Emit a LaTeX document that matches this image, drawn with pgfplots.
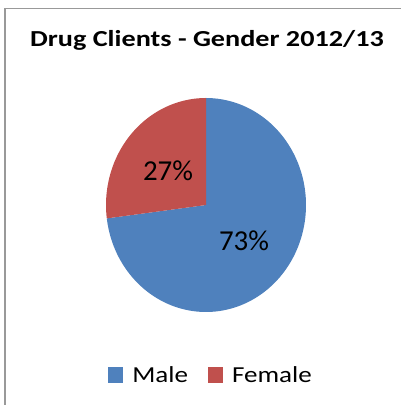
\documentclass[border=0pt]{standalone}
\usepackage{fontspec}
\setmainfont{Carlito}
\newfontfamily\titlefont[FakeStretch=1.23]{Carlito}
\newfontfamily\widefont[FakeStretch=1.18]{Carlito}
\usepackage{pgfplots}
\usepackage{pgfplotstable}
\pgfplotsset{compat=1.18}
\definecolor{pieblue}{HTML}{4F81BD}
\definecolor{piered}{HTML}{C0504D}
\pgfplotstableread{
label value
Male 73
Female 27
}\piedata
\pgfplotstablegetelem{0}{value}\of\piedata
\let\maleval\pgfplotsretval
\pgfplotstablegetelem{1}{value}\of\piedata
\let\femaleval\pgfplotsretval
\begin{document}
\begin{tikzpicture}
\useasboundingbox (0,0) rectangle (401bp,405bp);
\begin{axis}[
  scale only axis, width=401bp, height=405bp,
  xmin=0, xmax=401, ymin=0, ymax=405,
  hide axis, clip=false,
  legend columns=2,
  legend style={at={(axis cs:211,30)}, anchor=center, draw=none, fill=none,
    font=\widefont\fontsize{23}{27}\selectfont,
    /tikz/every odd column/.append style={column sep=7bp},
    /tikz/every even column/.append style={column sep=18bp}},
  legend image code/.code={\fill[#1] (0bp,-7.5bp) rectangle (15bp,7.5bp);},
]
\draw[gray!80, line width=1.2bp] (axis cs:5,0) -- (axis cs:5,396.5) -- (axis cs:401,396.5);
\addplot[fill=pieblue, draw=none, domain={90-\maleval*3.6}:90, samples=120, variable=\t]
  ({206+100*cos(t)},{200+107*sin(t)}) -- (axis cs:206,200) -- cycle;
\addlegendentry{Male}
\addplot[fill=piered, draw=none, domain=90:{90+\femaleval*3.6}, samples=60, variable=\t]
  ({206+100*cos(t)},{200+107*sin(t)}) -- (axis cs:206,200) -- cycle;
\addlegendentry{Female}
\node[anchor=base, font=\titlefont\bfseries\fontsize{23}{27}\selectfont] at (axis cs:207,358) {Drug Clients - Gender 2012/13};
\node[anchor=base, font=\fontsize{29}{33}\selectfont] at (axis cs:168,224) {27\%};
\node[anchor=base, font=\fontsize{29}{33}\selectfont] at (axis cs:244,154) {73\%};
\end{axis}
\end{tikzpicture}
\end{document}
